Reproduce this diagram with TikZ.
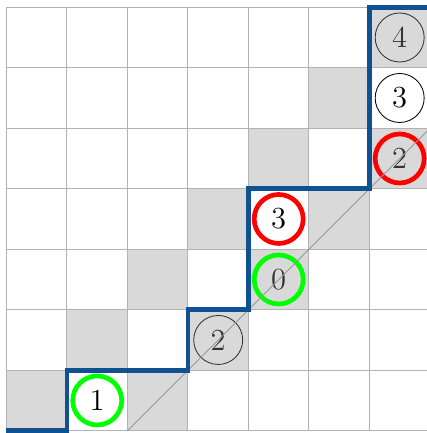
\documentclass[tikz,border=0pt]{standalone}
\usetikzlibrary{calc}
\definecolor{pathblue}{RGB}{16,82,145}
\tikzset{
  num/.style={circle,draw,thin,minimum size=0.81cm,inner sep=0pt,font=\Large},
  shaded/.style={text=black!80,draw=black!80},
  goodnum/.style={num,draw=green,line width=2.2pt},
  badnum/.style={num,draw=red,line width=2.2pt},
}
\begin{document}
\begin{tikzpicture}[inner sep=0pt]
\useasboundingbox (-0.107,-0.038) rectangle (6.939,7.12);
\foreach \i in {0,...,6} \fill[black!15] (\i,\i) rectangle ++(1,1);
\foreach \i in {0,...,4} \fill[black!15] (\i+2,\i) rectangle ++(1,1);
\draw[black!30,line width=0.5pt] (0,0) grid (7,7);

\node[goodnum] (s1) at (1.5, 0.5) {1};
\node[num,shaded] (s2) at (3.5, 1.5) {2};
\node[goodnum,text=black!80] (s0) at (4.5, 2.5) {0};
\node[badnum] (s3) at (4.5, 3.5) {3};
\node[badnum,text=black!80] (t2) at (6.5, 4.5) {2};
\node[num] (t3) at (6.5, 5.5) {3};
\node[num,shaded] (t4) at (6.5, 6.5) {4};

\draw[black!40,line width=0.4pt] (2,0) -- (7,5);
\draw[pathblue,line width=2.2pt] (0,0) -| (1,1) -| (3,2) -| (4,4) -| (6,7) -- (7,7);
\end{tikzpicture}
\end{document}
